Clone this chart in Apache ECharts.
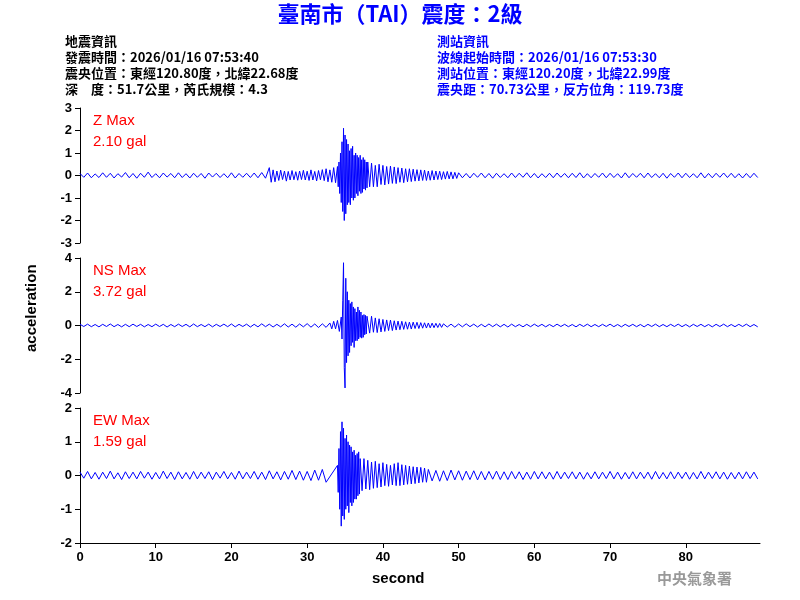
<!DOCTYPE html>
<html><head><meta charset="utf-8">
<script src="https://cdn.jsdelivr.net/npm/echarts@6/dist/echarts.min.js"></script>
<style>body{margin:0}#c{width:800px;height:600px}</style></head>
<body><div id="c"></div>
<script>
var xTicks = [0, 10, 20, 30, 40, 50, 60, 70, 80];
var maxLabels = ['2.10 gal', '3.72 gal', '1.59 gal'];
var traceNames = ['Z Max', 'NS Max', 'EW Max'];

// Z trace segments: [start second, step, values]
var zQuiet1 = [0.09,-0.08,0.11,-0.1,0.07,-0.09,0.12,-0.08,0.1,-0.11,0.08,-0.07,0.13,-0.1,0.09,-0.12,0.1,-0.08,0.15,-0.09,0.08,-0.1,0.11,-0.07,0.09,-0.1,0.12,-0.09,0.08,-0.11,0.1,-0.08,0.09,-0.12,0.11,-0.07,0.1,-0.09,0.08,-0.1,0.12,-0.11,0.09,-0.08,0.1,-0.09,0.11,-0.1,0.13,-0.12];
var zPre = [0.35,-0.3,0.25,-0.28,0.2,-0.22,0.24,-0.18,0.2,-0.25,0.18,-0.2,0.22,-0.19,0.17,-0.21,0.2,-0.18,0.23,-0.2,0.19,-0.22,0.25,-0.2,0.18,-0.24,0.22,-0.19,0.26,-0.23,0.3,-0.28,0.25,-0.3,0.35,-0.32];
var zMain = [0.4,-0.5,0.6,-0.8,1.0,-1.2,1.5,-1.6,2.1,-2.0,1.8,-1.7,1.6,-1.3,1.4,-1.2,1.1,-1.3,1.2,-1.0,1.3,-1.1,0.9,-1.0,1.0,-0.8,0.9,-0.9,0.8,-0.7,0.9,-0.8,0.7,-0.75,0.8,-0.6,0.7,-0.65,0.6,-0.55];
var zCoda = [0.6,-0.5,0.55,-0.5,0.45,-0.5,0.5,-0.4,0.45,-0.42,0.4,-0.38,0.42,-0.35,0.38,-0.36,0.35,-0.3,0.33,-0.32,0.3,-0.28,0.3,-0.27,0.28,-0.25,0.26,-0.24,0.25,-0.22,0.24,-0.22,0.2,-0.21,0.22,-0.2,0.2,-0.18,0.19,-0.18,0.17,-0.16,0.18,-0.15,0.16,-0.15,0.14,-0.13];
var zQuiet2 = [0.12,-0.1,0.09,-0.11,0.1,-0.08,0.11,-0.1,0.09,-0.12,0.1,-0.09,0.08,-0.1,0.11,-0.09,0.1,-0.08,0.12,-0.1,0.09,-0.11,0.08,-0.09,0.1,-0.1,0.11,-0.08,0.09,-0.1,0.1,-0.09,0.12,-0.11,0.08,-0.1,0.09,-0.08,0.11,-0.1,0.1,-0.09,0.08,-0.11,0.12,-0.1,0.09,-0.08,0.1,-0.1,0.11,-0.09,0.08,-0.1,0.1,-0.12,0.09,-0.08,0.11,-0.1,0.1,-0.09,0.08,-0.1,0.12,-0.11,0.09,-0.1,0.1,-0.08,0.11,-0.09,0.1,-0.1,0.08,-0.11,0.09,-0.1,0.1,-0.09];

var nsQuiet1 = [0.07,-0.06,0.08,-0.07,0.06,-0.08,0.07,-0.06,0.09,-0.07,0.06,-0.08,0.07,-0.07,0.08,-0.06,0.07,-0.08,0.06,-0.07,0.08,-0.06,0.07,-0.09,0.06,-0.07,0.08,-0.06,0.07,-0.08,0.09,-0.07,0.06,-0.07,0.08,-0.08,0.07,-0.06,0.08,-0.07,0.09,-0.08,0.07,-0.06,0.08,-0.09,0.07,-0.08,0.1,-0.07,0.08,-0.09,0.07,-0.08,0.1,-0.09,0.08,-0.1,0.09,-0.08,0.11,-0.1,0.09,-0.12,0.1,-0.11];
var nsPre = [0.15,-0.2,0.25,-0.2,0.3,-0.35];
var nsMain = [0.5,-0.8,1.5,3.72,-2.5,-3.7,2.8,-2.2,2.0,-1.8,1.5,-1.6,1.3,-1.2,1.4,-1.0,1.1,-1.3,1.0,-0.9,0.8,-0.9,1.1,-0.8,0.9,-0.7,0.8,-0.75,0.6,-0.7,0.65,-0.55,0.6,-0.5,0.55];
var nsCoda = [0.5,-0.45,0.55,-0.4,0.45,-0.42,0.4,-0.38,0.36,-0.35,0.33,-0.3,0.32,-0.3,0.28,-0.27,0.26,-0.25,0.25,-0.23,0.22,-0.22,0.2,-0.21,0.2,-0.18,0.19,-0.18,0.17,-0.16,0.16,-0.15,0.15,-0.14,0.14,-0.13,0.13,-0.12,0.12,-0.11];
var nsQuiet2 = [0.1,-0.09,0.08,-0.1,0.09,-0.08,0.1,-0.07,0.08,-0.09,0.07,-0.08,0.09,-0.07,0.08,-0.08,0.07,-0.09,0.08,-0.07,0.06,-0.08,0.07,-0.07,0.08,-0.06,0.07,-0.08,0.06,-0.07,0.08,-0.06,0.07,-0.07,0.06,-0.08,0.07,-0.06,0.08,-0.07,0.06,-0.07,0.07,-0.06,0.08,-0.07,0.06,-0.08,0.07,-0.06,0.07,-0.07,0.06,-0.08,0.07,-0.06,0.08,-0.07,0.06,-0.07,0.07,-0.06,0.08,-0.07,0.06,-0.08,0.07,-0.06,0.07,-0.07,0.06,-0.08,0.07,-0.06,0.08,-0.07,0.06,-0.07,0.07,-0.06,0.08,-0.07,0.06,-0.08];

var ewQuiet1 = [0.1,-0.08,0.12,-0.1,0.09,-0.11,0.1,-0.09,0.13,-0.1,0.08,-0.12,0.11,-0.09,0.1,-0.1,0.12,-0.08,0.1,-0.11,0.09,-0.1,0.13,-0.09,0.1,-0.12,0.11,-0.1,0.09,-0.11,0.12,-0.1,0.1,-0.09,0.11,-0.12,0.1,-0.08,0.12,-0.1,0.09,-0.11,0.13,-0.1,0.1,-0.09,0.12,-0.11,0.1,-0.12,0.14,-0.1,0.11,-0.13,0.12,-0.11,0.15,-0.12,0.13,-0.14,0.12,-0.15,0.16,-0.14,0.18,-0.2];
var ewMain = [0.3,-0.5,0.8,-1.0,1.3,-1.5,1.59,-1.2,1.4,-1.3,1.1,-1.0,1.2,-0.9,1.0,-1.1,0.9,-0.8,0.85,-0.9,0.7,-0.8,0.75,-0.7,0.6,-0.7,0.65,-0.6,0.7,-0.55];
var ewCoda = [0.5,-0.45,0.5,-0.4,0.45,-0.42,0.4,-0.38,0.42,-0.36,0.35,-0.34,0.38,-0.3,0.33,-0.32,0.3,-0.28,0.35,-0.3,0.38,-0.3,0.32,-0.28,0.3,-0.26,0.28,-0.25,0.26,-0.24,0.25,-0.22,0.24,-0.2,0.22,-0.2];
var ewQuiet2 = [0.18,-0.16,0.15,-0.17,0.14,-0.15,0.16,-0.13,0.14,-0.14,0.13,-0.12,0.14,-0.13,0.12,-0.13,0.12,-0.11,0.13,-0.12,0.11,-0.12,0.12,-0.1,0.11,-0.12,0.1,-0.11,0.12,-0.1,0.11,-0.1,0.1,-0.11,0.12,-0.1,0.1,-0.09,0.11,-0.1,0.1,-0.11,0.09,-0.1,0.11,-0.1,0.1,-0.09,0.12,-0.1,0.1,-0.11,0.09,-0.1,0.11,-0.1,0.1,-0.09,0.1,-0.11,0.12,-0.1,0.09,-0.1,0.11,-0.1,0.1,-0.09,0.1,-0.11,0.09,-0.1,0.12,-0.1,0.1,-0.09,0.11,-0.1,0.1,-0.11,0.09,-0.1,0.1,-0.1,0.11,-0.09,0.1,-0.1];

function seg(t0, dt, vals) {
	return vals.map(function(v, i) { return [+(t0 + i * dt).toFixed(2), v]; });
}
var zData = [].concat(seg(0, 0.5, zQuiet1), seg(25, 0.25, zPre), seg(34, 0.1, zMain), seg(38, 0.25, zCoda), seg(50, 0.5, zQuiet2));
var nsData = [].concat(seg(0, 0.5, nsQuiet1), seg(33, 0.25, nsPre), seg(34.5, 0.1, nsMain), seg(38, 0.25, nsCoda), seg(48, 0.5, nsQuiet2));
var ewData = [].concat(seg(0, 0.5, ewQuiet1), seg(34, 0.1, ewMain), seg(37, 0.25, ewCoda), seg(46, 0.5, ewQuiet2));

var tops = [108, 258, 408];
var ranges = [[-3, 3, 1], [-4, 4, 2], [-2, 2, 1]];
var chart = echarts.init(document.getElementById('c'));
var lbl = { color: '#000', fontWeight: 'bold', fontSize: 13, fontFamily: 'Liberation Sans' };
var info = { fontSize: 13, fontWeight: 'bold', fontFamily: 'Noto Sans CJK TC', lineHeight: 16 };
var graphics = [
	{ type: 'text', left: 'center', top: 3, style: { text: '臺南市（TAI）震度：2級', fill: '#0000ff', fontSize: 22, fontWeight: 'bold', fontFamily: 'Noto Sans CJK TC' } },
	{ type: 'text', left: 65, top: 33, style: Object.assign({ fill: '#000', text: '地震資訊\n發震時間：2026/01/16 07:53:40\n震央位置：東經120.80度，北緯22.68度\n深　度：51.7公里，芮氏規模：4.3' }, info) },
	{ type: 'text', left: 437, top: 33, style: Object.assign({ fill: '#0000ff', text: '測站資訊\n波線起始時間：2026/01/16 07:53:30\n測站位置：東經120.20度，北緯22.99度\n震央距：70.73公里，反方位角：119.73度' }, info) },
	{ type: 'text', x: 24, y: 352, rotation: Math.PI / 2, style: { text: 'acceleration', fill: '#000', fontSize: 15, fontWeight: 'bold', fontFamily: 'Liberation Sans' } },
	{ type: 'text', left: 372, top: 571, style: { text: 'second', fill: '#000', fontSize: 15, fontWeight: 'bold', fontFamily: 'Liberation Sans' } },
	{ type: 'text', left: 657, top: 571, style: { text: '中央氣象署', fill: '#999', fontSize: 15, fontWeight: 'bold', fontFamily: 'Noto Sans CJK TC' } }
];
for (var i = 0; i < 3; i++) {
	graphics.push({ type: 'text', left: 93, top: tops[i] + 2, style: { text: traceNames[i] + '\n' + maxLabels[i], fill: '#ff0000', fontSize: 15, lineHeight: 21, fontFamily: 'Liberation Sans' } });
}
var option = {
	animation: false,
	backgroundColor: '#fff',
	graphic: graphics,
	grid: tops.map(function(t) { return { left: 80, right: 40, top: t, height: 135 }; }),
	xAxis: tops.map(function(t, i) {
		return {
			type: 'value', gridIndex: i, min: 0, max: 89.8, interval: 10,
			show: i === 2,
			axisLine: { onZero: false, lineStyle: { color: '#000' } },
			axisTick: { lineStyle: { color: '#000' } },
			axisLabel: Object.assign({ showMaxLabel: false }, lbl),
			splitLine: { show: false }
		};
	}),
	yAxis: ranges.map(function(r, i) {
		return {
			type: 'value', gridIndex: i, min: r[0], max: r[1], interval: r[2],
			axisLine: { show: true, onZero: false, lineStyle: { color: '#000' } },
			axisTick: { show: true, lineStyle: { color: '#000' } },
			axisLabel: lbl,
			splitLine: { show: false }
		};
	}),
	series: [zData, nsData, ewData].map(function(d, i) {
		return { type: 'line', xAxisIndex: i, yAxisIndex: i, data: d, showSymbol: false, lineStyle: { color: '#0000ff', width: 1 } };
	})
};
chart.setOption(option);
</script></body></html>
